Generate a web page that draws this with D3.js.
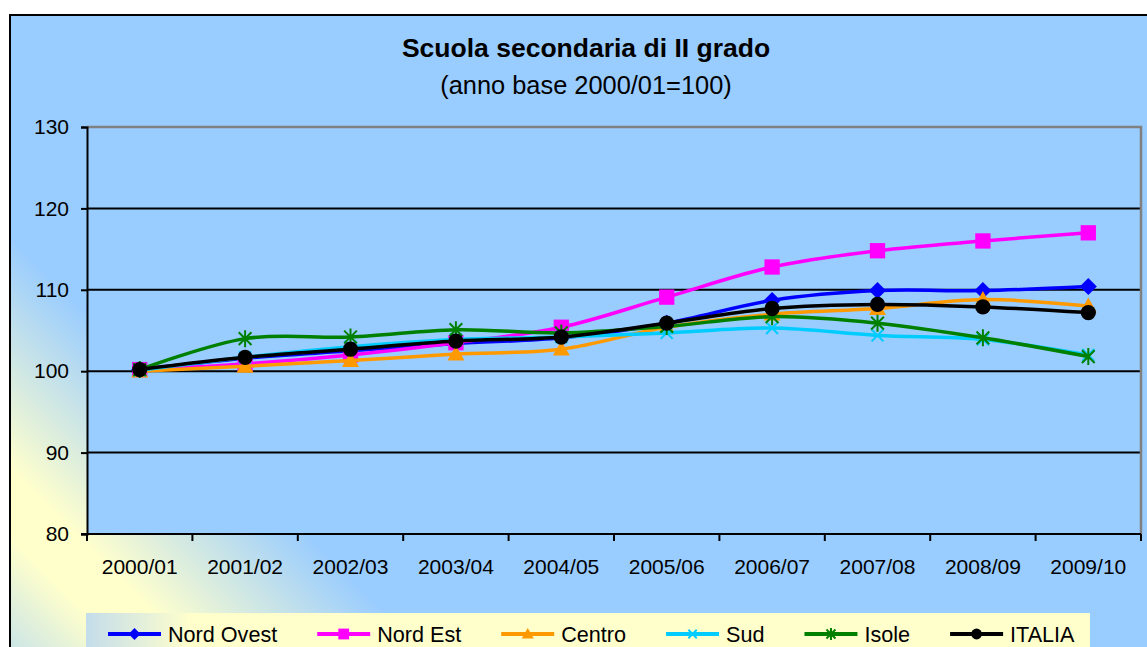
<!DOCTYPE html>
<html>
<head>
<meta charset="utf-8">
<script src="https://d3js.org/d3.v7.min.js"></script>
<style>
body { margin: 0; background: #fff; }
text { font-family: "Liberation Sans", Arial, sans-serif; fill: #000; }
</style>
</head>
<body>
<script>
var categories = ["2000/01", "2001/02", "2002/03", "2003/04", "2004/05", "2005/06", "2006/07", "2007/08", "2008/09", "2009/10"];
var yTicks = [80, 90, 100, 110, 120, 130];

var seriesNames = ["Nord Ovest", "Nord Est", "Centro", "Sud", "Isole", "ITALIA"];
var nordOvest = [100.2, 101.6, 102.5, 103.4, 104.1, 105.9, 108.7, 109.9, 109.9, 110.4];
var nordEst   = [100.2, 100.9, 102.0, 103.5, 105.4, 109.1, 112.8, 114.8, 116.0, 117.0];
var centro    = [100.0, 100.6, 101.3, 102.1, 102.7, 105.4, 107.0, 107.7, 108.8, 108.0];
var sud       = [100.1, 101.7, 103.0, 103.9, 104.2, 104.7, 105.3, 104.4, 103.9, 102.0];
var isole     = [100.2, 104.0, 104.2, 105.1, 104.7, 105.5, 106.7, 105.9, 104.1, 101.8];
var italia    = [100.2, 101.7, 102.7, 103.7, 104.2, 105.9, 107.7, 108.2, 107.9, 107.2];

var colors  = ["#0000FF", "#FF00FF", "#FF9900", "#00CCFF", "#008000", "#000000"];
var markers = ["diamond", "square", "triangle", "cross", "star", "circle"];

var series = seriesNames.map(function(n, i) {
	return { name: n, values: [nordOvest, nordEst, centro, sud, isole, italia][i], color: colors[i], marker: markers[i] };
});

var width = 1147, height = 647;
var plot = { left: 87, right: 1141, top: 127, bottom: 534 };

var svg = d3.select("body").append("svg")
	.attr("width", width)
	.attr("height", height);

var defs = svg.append("defs");
var bg = defs.append("linearGradient")
	.attr("id", "bg")
	.attr("gradientUnits", "userSpaceOnUse")
	.attr("x1", -115).attr("y1", 630)
	.attr("x2", 145).attr("y2", 370);
bg.append("stop").attr("offset", 0).attr("stop-color", "#99CCFF");
bg.append("stop").attr("offset", 0.42).attr("stop-color", "#FFFFCC");
bg.append("stop").attr("offset", 0.55).attr("stop-color", "#FFFFCC");
bg.append("stop").attr("offset", 1).attr("stop-color", "#99CCFF");

var lg = defs.append("linearGradient")
	.attr("id", "lg")
	.attr("gradientUnits", "userSpaceOnUse")
	.attr("x1", 86).attr("y1", 0)
	.attr("x2", 190).attr("y2", 0);
lg.append("stop").attr("offset", 0).attr("stop-color", "#C4DDEB");
lg.append("stop").attr("offset", 1).attr("stop-color", "#FFFFCC");

// chart area
svg.append("rect")
	.attr("x", 10).attr("y", 15)
	.attr("width", 1200).attr("height", 700)
	.attr("fill", "url(#bg)")
	.attr("stroke", "#000")
	.attr("stroke-width", 2);

// plot area
svg.append("rect")
	.attr("x", plot.left).attr("y", plot.top)
	.attr("width", plot.right - plot.left).attr("height", plot.bottom - plot.top)
	.attr("fill", "#99CCFF");

var x = d3.scaleBand()
	.domain(categories)
	.range([plot.left, plot.right])
	.padding(0);
var xb = d3.scaleLinear()
	.domain([0, categories.length])
	.range([plot.left, plot.right]);
var y = d3.scaleLinear()
	.domain([80, 130])
	.range([plot.bottom, plot.top]);

// gridlines
svg.append("g")
	.selectAll("line")
	.data(yTicks.slice(1, -1))
	.enter()
	.append("line")
		.attr("x1", plot.left).attr("x2", plot.right)
		.attr("y1", function(d) { return y(d); })
		.attr("y2", function(d) { return y(d); })
		.attr("stroke", "#000")
		.attr("stroke-width", 2);

// plot border top / right
svg.append("path")
	.attr("d", "M" + plot.left + "," + y(130) + "H" + plot.right + "V" + plot.bottom)
	.attr("fill", "none")
	.attr("stroke", "#808080")
	.attr("stroke-width", 2.5);

// y axis
var yAxis = svg.append("g")
	.attr("transform", "translate(" + plot.left + ",0)")
	.call(d3.axisLeft(y).tickValues(yTicks).tickSize(6).tickPadding(12).tickFormat(d3.format("d")));
yAxis.select(".domain").attr("stroke", "#000").attr("stroke-width", 2);
yAxis.selectAll(".tick line").attr("stroke", "#000").attr("stroke-width", 2);
yAxis.selectAll(".tick text")
	.attr("font-size", 21)
	.attr("font-family", "Liberation Sans, Arial, sans-serif")
	.attr("fill", "#000");

// x axis
svg.append("line")
	.attr("x1", plot.left - 6).attr("x2", plot.right)
	.attr("y1", plot.bottom).attr("y2", plot.bottom)
	.attr("stroke", "#000").attr("stroke-width", 2);
svg.append("g")
	.selectAll("line")
	.data(d3.range(categories.length + 1))
	.enter()
	.append("line")
		.attr("x1", function(d) { return xb(d); })
		.attr("x2", function(d) { return xb(d); })
		.attr("y1", plot.bottom)
		.attr("y2", plot.bottom + 7)
		.attr("stroke", "#000").attr("stroke-width", 2);
svg.append("g")
	.selectAll("text")
	.data(categories)
	.enter()
	.append("text")
		.attr("x", function(d) { return x(d) + x.bandwidth() / 2; })
		.attr("y", 574)
		.attr("text-anchor", "middle")
		.attr("font-size", 21)
		.text(function(d) { return d; });

// title
svg.append("text")
	.attr("x", 586).attr("y", 57)
	.attr("text-anchor", "middle")
	.attr("font-size", 26.5)
	.attr("font-weight", "bold")
	.text("Scuola secondaria di II grado");
svg.append("text")
	.attr("x", 586).attr("y", 94)
	.attr("text-anchor", "middle")
	.attr("font-size", 25.4)
	.text("(anno base 2000/01=100)");

function drawMarker(g, type, color, s) {
	if (type === "diamond") {
		g.append("path").attr("d", "M0," + (-s) + "L" + s + ",0L0," + s + "L" + (-s) + ",0Z").attr("fill", color);
	} else if (type === "square") {
		var h = s * 0.9;
		g.append("rect").attr("x", -h).attr("y", -h).attr("width", 2 * h).attr("height", 2 * h).attr("fill", color);
	} else if (type === "triangle") {
		g.append("path").attr("d", "M0," + (-s) + "L" + s + "," + (s * 0.75) + "L" + (-s) + "," + (s * 0.75) + "Z").attr("fill", color);
	} else if (type === "cross") {
		var c = s * 0.7;
		g.append("path").attr("d", "M" + (-c) + "," + (-c) + "L" + c + "," + c + "M" + (-c) + "," + c + "L" + c + "," + (-c))
			.attr("stroke", color).attr("stroke-width", 2).attr("fill", "none");
	} else if (type === "star") {
		var c2 = s * 0.75;
		g.append("path").attr("d", "M" + (-c2) + "," + (-c2) + "L" + c2 + "," + c2 + "M" + (-c2) + "," + c2 + "L" + c2 + "," + (-c2) + "M0," + (-s) + "V" + s)
			.attr("stroke", color).attr("stroke-width", 2).attr("fill", "none");
	} else {
		g.append("circle").attr("r", s * 0.9).attr("fill", color);
	}
}

var line = d3.line()
	.x(function(d, i) { return x(categories[i]) + x.bandwidth() / 2; })
	.y(function(d) { return y(d); })
	.curve(d3.curveCatmullRom.alpha(0));

series.forEach(function(s) {
	var g = svg.append("g");
	g.append("path")
		.datum(s.values)
		.attr("d", line)
		.attr("fill", "none")
		.attr("stroke", s.color)
		.attr("stroke-width", 3.5)
		.attr("stroke-linejoin", "round");
	s.values.forEach(function(v, i) {
		var m = g.append("g")
			.attr("transform", "translate(" + (x(categories[i]) + x.bandwidth() / 2) + "," + y(v) + ")");
		drawMarker(m, s.marker, s.color, 8.5);
	});
});

// legend
svg.append("rect")
	.attr("x", 86).attr("y", 613)
	.attr("width", 1004).attr("height", 60)
	.attr("fill", "url(#lg)");

var lx = 108;
series.forEach(function(s) {
	var g = svg.append("g");
	g.append("line")
		.attr("x1", lx).attr("x2", lx + 53)
		.attr("y1", 634).attr("y2", 634)
		.attr("stroke", s.color).attr("stroke-width", 4);
	var m = g.append("g").attr("transform", "translate(" + (lx + 26.5) + ",634)");
	drawMarker(m, s.marker, s.color, 6);
	var t = g.append("text")
		.attr("x", lx + 60).attr("y", 642)
		.attr("font-size", 21.6)
		.text(s.name);
	lx += 60 + t.node().getComputedTextLength() + 40;
});
</script>
</body>
</html>
